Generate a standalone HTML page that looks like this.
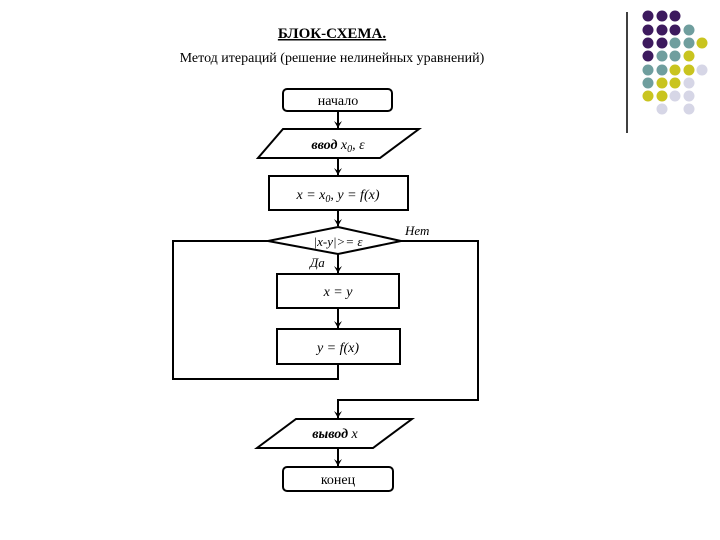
<!DOCTYPE html>
<html><head><meta charset="utf-8"><style>
body{margin:0;background:#fff;}
svg{display:block;}
text{font-family:"Liberation Serif",serif;fill:#000;}
</style></head><body>
<svg width="720" height="540" viewBox="0 0 720 540" xmlns="http://www.w3.org/2000/svg">
<defs><marker id="a" markerWidth="8" markerHeight="8" refX="7" refY="4" orient="auto" markerUnits="userSpaceOnUse"><path d="M0,0 L7,4 L0,8 L3,4 Z" fill="#000"/></marker></defs>
<text x="332" y="38" font-size="15" font-weight="bold" text-anchor="middle" text-decoration="underline">БЛОК-СХЕМА.</text>
<text x="332" y="62" font-size="14" text-anchor="middle">Метод итераций (решение нелинейных уравнений)</text>
<g stroke="#000" stroke-width="2" fill="#fff">
<rect x="283" y="89" width="109" height="22" rx="4"/>
<polygon points="283,129 419,129 380,158 258,158"/>
<rect x="269" y="176" width="139" height="34"/>
<polygon points="338,227 401,241 338,254 268,241"/>
<rect x="277" y="274" width="122" height="34"/>
<rect x="277" y="329" width="123" height="35"/>
<polygon points="296,419 412,419 373,448 257,448"/>
<rect x="283" y="467" width="110" height="24" rx="4"/>
<g fill="none">
<line x1="338" y1="111" x2="338" y2="128" marker-end="url(#a)"/>
<line x1="338" y1="158" x2="338" y2="175" marker-end="url(#a)"/>
<line x1="338" y1="210" x2="338" y2="226" marker-end="url(#a)"/>
<line x1="338" y1="254" x2="338" y2="273" marker-end="url(#a)"/>
<line x1="338" y1="308" x2="338" y2="328" marker-end="url(#a)"/>
<polyline points="338,364 338,379 173,379 173,241 268,241"/>
<polyline points="401,241 478,241 478,400 338,400 338,418" marker-end="url(#a)"/>
<line x1="338" y1="448" x2="338" y2="466" marker-end="url(#a)"/>
</g>
</g>
<text x="338" y="105" font-size="14" text-anchor="middle">начало</text>
<text x="338" y="149" font-size="14" text-anchor="middle" font-style="italic"><tspan font-weight="bold">ввод</tspan> x<tspan font-size="10" dy="3">0</tspan><tspan dy="-3">, ε</tspan></text>
<text x="338" y="199" font-size="14" text-anchor="middle" font-style="italic">x = x<tspan font-size="10" dy="3">0</tspan><tspan dy="-3">, y = f(x)</tspan></text>
<text x="338" y="246" font-size="13" text-anchor="middle" font-style="italic">|x-y|&gt;= ε</text>
<text x="405" y="235" font-size="13" font-style="italic">Нет</text>
<text x="310" y="267" font-size="13" font-style="italic">Да</text>
<text x="338" y="296" font-size="14" text-anchor="middle" font-style="italic">x = y</text>
<text x="338" y="352" font-size="14" text-anchor="middle" font-style="italic">y = f(x)</text>
<text x="335" y="438" font-size="14" text-anchor="middle" font-style="italic" font-weight="bold">вывод <tspan font-weight="normal">x</tspan></text>
<text x="338" y="484" font-size="14" text-anchor="middle">конец</text>
<line x1="627" y1="12" x2="627" y2="133" stroke="#000" stroke-width="1.5"/>
<g>
<circle cx="648" cy="16" r="5.5" fill="#3d1a5e"/><circle cx="662" cy="16" r="5.5" fill="#3d1a5e"/><circle cx="675" cy="16" r="5.5" fill="#3d1a5e"/>
<circle cx="648" cy="30" r="5.5" fill="#3d1a5e"/><circle cx="662" cy="30" r="5.5" fill="#3d1a5e"/><circle cx="675" cy="30" r="5.5" fill="#3d1a5e"/><circle cx="689" cy="30" r="5.5" fill="#6f9e9e"/>
<circle cx="648" cy="43" r="5.5" fill="#3d1a5e"/><circle cx="662" cy="43" r="5.5" fill="#3d1a5e"/><circle cx="675" cy="43" r="5.5" fill="#6f9e9e"/><circle cx="689" cy="43" r="5.5" fill="#6f9e9e"/><circle cx="702" cy="43" r="5.5" fill="#c9c41f"/>
<circle cx="648" cy="56" r="5.5" fill="#3d1a5e"/><circle cx="662" cy="56" r="5.5" fill="#6f9e9e"/><circle cx="675" cy="56" r="5.5" fill="#6f9e9e"/><circle cx="689" cy="56" r="5.5" fill="#c9c41f"/>
<circle cx="648" cy="70" r="5.5" fill="#6f9e9e"/><circle cx="662" cy="70" r="5.5" fill="#6f9e9e"/><circle cx="675" cy="70" r="5.5" fill="#c9c41f"/><circle cx="689" cy="70" r="5.5" fill="#c9c41f"/><circle cx="702" cy="70" r="5.5" fill="#d6d6e6"/>
<circle cx="648" cy="83" r="5.5" fill="#6f9e9e"/><circle cx="662" cy="83" r="5.5" fill="#c9c41f"/><circle cx="675" cy="83" r="5.5" fill="#c9c41f"/><circle cx="689" cy="83" r="5.5" fill="#d6d6e6"/>
<circle cx="648" cy="96" r="5.5" fill="#c9c41f"/><circle cx="662" cy="96" r="5.5" fill="#c9c41f"/><circle cx="675" cy="96" r="5.5" fill="#d6d6e6"/><circle cx="689" cy="96" r="5.5" fill="#d6d6e6"/>
<circle cx="662" cy="109" r="5.5" fill="#d6d6e6"/><circle cx="689" cy="109" r="5.5" fill="#d6d6e6"/>
</g>
</svg>
</body></html>
